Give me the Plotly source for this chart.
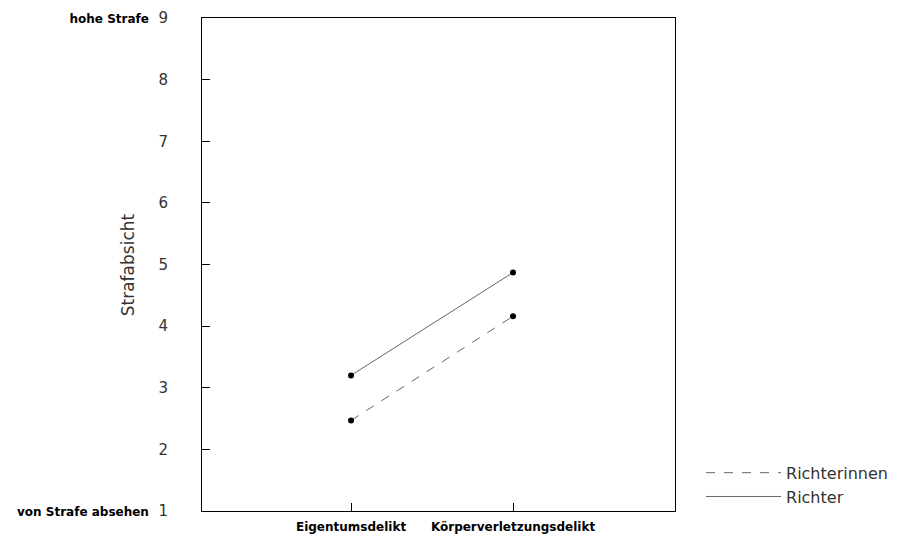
import plotly.graph_objects as go

categories = ["Eigentumsdelikt", "Körperverletzungsdelikt"]
richterinnen = [2.47, 4.16]
richter = [3.2, 4.87]
y_tickvals = [1, 2, 3, 4, 5, 6, 7, 8, 9]
y_ticktext = ["<span style='font-size:12px;font-weight:bold;fill:#000'>von Strafe absehen</span>  1",
              "2", "3", "4", "5", "6", "7", "8",
              "<span style='font-size:12px;font-weight:bold;fill:#000'>hohe Strafe</span>  9"]
x_ticktext = ["<b>" + c + "</b>" for c in categories]

FONT = "DejaVu Sans, Liberation Sans, sans-serif"

fig = go.Figure()
fig.add_trace(go.Scatter(x=categories, y=richterinnen, mode="lines", name="Richterinnen",
                         line=dict(color="#666", width=1, dash="dash")))
fig.add_trace(go.Scatter(x=categories, y=richter, mode="lines", name="Richter",
                         line=dict(color="#666", width=1)))
fig.add_trace(go.Scatter(x=categories + categories, y=richterinnen + richter, mode="markers",
                         showlegend=False, marker=dict(color="black", size=6)))

fig.update_layout(
    width=902, height=530,
    margin=dict(l=194, r=235, t=10, b=27, autoexpand=False),
    paper_bgcolor="white", plot_bgcolor="white",
    font=dict(family=FONT, color="#222"),
    showlegend=True,
    legend=dict(x=1.055, y=0.112, xanchor="left", yanchor="top",
                font=dict(size=16, color="#333", family=FONT), itemwidth=75,
                bgcolor="rgba(0,0,0,0)", tracegroupgap=0),
    annotations=[dict(text="Strafabsicht", xref="paper", yref="paper",
                      x=-0.157, y=0.5, xanchor="center", yanchor="middle",
                      textangle=-90, showarrow=False,
                      font=dict(size=17, color="#333", family=FONT))],
)
fig.update_xaxes(type="category", range=[-0.92, 2.0], showgrid=False, zeroline=False,
                 showline=True, linecolor="black", linewidth=1, mirror=True,
                 ticks="inside", ticklen=8, tickcolor="black",
                 tickvals=categories, ticktext=x_ticktext,
                 tickfont=dict(size=12, color="black", family=FONT), ticklabelstandoff=5)
fig.update_yaxes(range=[1, 9], showgrid=False, zeroline=False,
                 showline=True, linecolor="black", linewidth=1, mirror=True,
                 ticks="inside", ticklen=8, tickcolor="black",
                 tickvals=y_tickvals, ticktext=y_ticktext,
                 tickfont=dict(size=15, color="#333", family=FONT), ticklabelstandoff=30)

fig.write_html("out.html")
